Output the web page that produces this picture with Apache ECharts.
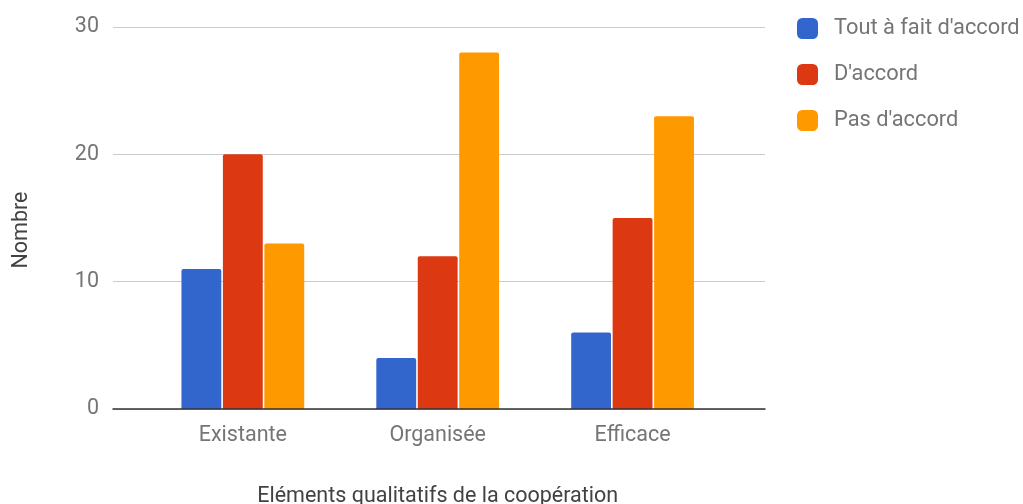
<!DOCTYPE html>
<html><head><meta charset="utf-8">
<script src="https://cdn.jsdelivr.net/npm/echarts@6/dist/echarts.min.js"></script>
<style>html,body{margin:0;padding:0;background:#fff}#c{width:1023px;height:504px}</style>
</head><body><div id="c"></div>
<script>
const categories = ["Existante", "Organisée", "Efficace"];
const seriesNames = ["Tout à fait d'accord", "D'accord", "Pas d'accord"];
const toutAFait = [11, 4, 6];
const daccord = [20, 12, 15];
const pasDaccord = [13, 28, 23];
const yTicks = [0, 10, 20, 30];
const colors = ["#3366cc", "#dc3912", "#ff9900"];
const values = [toutAFait, daccord, pasDaccord];

const chart = echarts.init(document.getElementById('c'), null, {renderer: 'canvas'});
const font = 'Roboto';
const fs = 21.5;
chart.setOption({
  animation: false,
  textStyle: {fontFamily: font},
  grid: [
    {left: 113, right: 258, top: 27, bottom: 95, containLabel: false, outerBoundsMode: 'none'},
    {left: 145.4, right: 293, top: 27, bottom: 95, containLabel: false, outerBoundsMode: 'none'}
  ],
  legend: {
    orient: 'vertical', left: 792, top: 12.5, itemWidth: 21, itemHeight: 21, itemGap: 24,
    icon: 'roundRect',
    textStyle: {fontFamily: font, fontSize: 21.8, lineHeight: 21, color: '#757575', padding: [0, 0, 0, 11]},
    data: seriesNames
  },
  xAxis: [
    {
      gridIndex: 0, type: 'category', data: categories, z: 10,
      axisLine: {lineStyle: {color: '#333333', width: 1.5}},
      axisTick: {show: false}, axisLabel: {show: false}, splitLine: {show: false}
    },
    {
      gridIndex: 1, type: 'category', data: categories,
      name: 'Eléments qualitatifs de la coopération', nameLocation: 'middle', nameGap: 77,
      nameTextStyle: {fontFamily: font, fontSize: fs, color: '#424242'},
      axisLine: {show: false},
      axisTick: {show: false},
      axisLabel: {fontFamily: font, fontSize: fs, color: '#757575', margin: 16}
    }
  ],
  yAxis: [
    {
      gridIndex: 0, type: 'value', min: 0, max: 30, interval: 10,
      name: 'Nombre', nameLocation: 'middle', nameGap: 80, nameRotate: 90,
      nameTextStyle: {fontFamily: font, fontSize: fs, color: '#424242', padding: [0, 24, 0, 0]},
      axisLine: {show: false}, axisTick: {show: false},
      axisLabel: {fontFamily: font, fontSize: fs, color: '#757575', margin: 14,
        formatter: v => yTicks.includes(v) ? String(v) : ''},
      splitLine: {lineStyle: {color: '#cccccc', width: 1}}
    },
    {
      gridIndex: 1, type: 'value', min: 0, max: 30, interval: 10, show: false,
      splitLine: {show: false}
    }
  ],
  series: values.map((v, i) => ({
    name: seriesNames[i], type: 'bar', data: v, xAxisIndex: 1, yAxisIndex: 1,
    barGap: '4%', barCategoryGap: '37%',
    itemStyle: {color: colors[i], borderRadius: [2, 2, 0, 0]}
  }))
});
</script></body></html>
